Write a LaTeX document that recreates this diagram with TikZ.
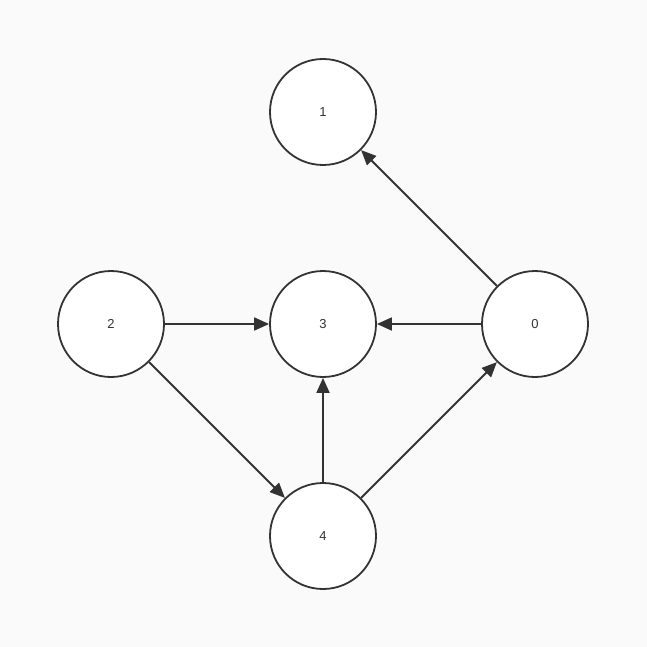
\documentclass[tikz,border=0pt]{standalone}
\usepackage{fontspec}
\setmainfont{Liberation Sans}
\usetikzlibrary{arrows.meta}
\begin{document}
\begin{tikzpicture}[x=1pt,y=-1pt,
  v/.style={circle,draw=black!80,line width=1.8pt,fill=white,minimum size=106pt,inner sep=0pt,font=\fontsize{13pt}{15pt}\selectfont,text=black!80},
  e/.style={draw=black!80,line width=1.8pt,-{Triangle[length=15pt,width=13pt]}}]
\fill[black!2] (0,0) rectangle (647,647);
\useasboundingbox (0,0) rectangle (647,647);
\node[v] (n1) at (323,112) {1};
\node[v] (n3) at (323,324) {3};
\node[v] (n2) at (111,324) {2};
\node[v] (n0) at (535,324) {0};
\node[v] (n4) at (323,536) {4};
\draw[e] (n0) -- (n1);
\draw[e] (n0) -- (n3);
\draw[e] (n2) -- (n3);
\draw[e] (n2) -- (n4);
\draw[e] (n4) -- (n3);
\draw[e] (n4) -- (n0);
\end{tikzpicture}
\end{document}
